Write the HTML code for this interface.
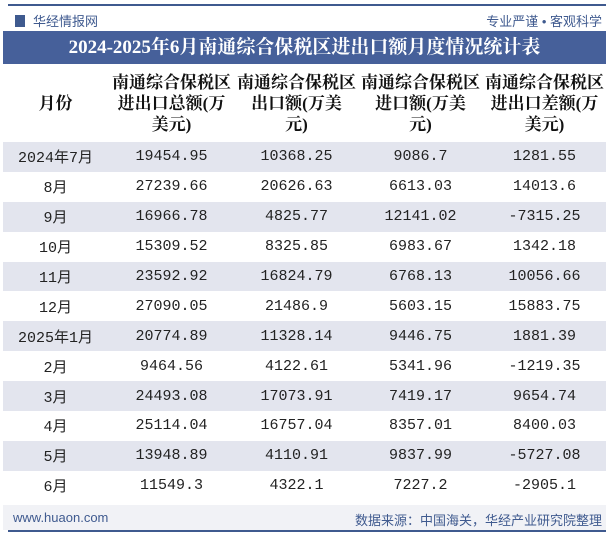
<!DOCTYPE html>
<html><head><meta charset="utf-8"><style>
body{margin:0;width:612px;height:535px;background:#fff;position:relative;overflow:hidden;font-family:"Liberation Serif","Noto Serif CJK SC",serif}
.abs{position:absolute}
table{position:absolute;left:3px;top:64px;width:603px;border-collapse:collapse;table-layout:fixed}
th{height:78px;font-size:17px;font-weight:bold;color:#111;line-height:21px;padding:0;vertical-align:middle;white-space:nowrap}
td{height:29.9px;padding:0;text-align:center;font-size:15px;color:#222;font-family:"Liberation Mono","Noto Sans CJK SC",monospace}
tr.g td{background:#e3e5ee}
</style></head><body>
<div class="abs" style="left:8px;top:4px;width:598px;height:2px;background:#3f5a8f"></div>
<div class="abs" style="left:15px;top:11px;font-size:13px;color:#3f5a8f;font-family:'Liberation Sans','Noto Sans CJK SC',sans-serif"><span style="display:inline-block;width:10px;height:12px;background:#3f5a8f;vertical-align:-1px;margin-right:8px"></span>华经情报网</div>
<div class="abs" style="right:10px;top:11px;font-size:13px;color:#3f5a8f;font-family:'Liberation Sans','Noto Sans CJK SC',sans-serif">专业严谨 • 客观科学</div>
<div class="abs" style="left:3px;top:31px;width:603px;height:33px;background:#46609a;color:#fff;font-size:19px;font-weight:bold;line-height:33px;text-align:center">2024-2025年6月南通综合保税区进出口额月度情况统计表</div>
<table>
<colgroup><col style="width:105px"><col style="width:127px"><col style="width:123px"><col style="width:125px"><col style="width:123px"></colgroup>
<tr><th>月份</th><th>南通综合保税区<br>进出口总额(万<br>美元)</th><th>南通综合保税区<br>出口额(万美<br>元)</th><th>南通综合保税区<br>进口额(万美<br>元)</th><th>南通综合保税区<br>进出口差额(万<br>美元)</th></tr>
<tr class="g"><td>2024年7月</td><td>19454.95</td><td>10368.25</td><td>9086.7</td><td>1281.55</td></tr>
<tr><td>8月</td><td>27239.66</td><td>20626.63</td><td>6613.03</td><td>14013.6</td></tr>
<tr class="g"><td>9月</td><td>16966.78</td><td>4825.77</td><td>12141.02</td><td>-7315.25</td></tr>
<tr><td>10月</td><td>15309.52</td><td>8325.85</td><td>6983.67</td><td>1342.18</td></tr>
<tr class="g"><td>11月</td><td>23592.92</td><td>16824.79</td><td>6768.13</td><td>10056.66</td></tr>
<tr><td>12月</td><td>27090.05</td><td>21486.9</td><td>5603.15</td><td>15883.75</td></tr>
<tr class="g"><td>2025年1月</td><td>20774.89</td><td>11328.14</td><td>9446.75</td><td>1881.39</td></tr>
<tr><td>2月</td><td>9464.56</td><td>4122.61</td><td>5341.96</td><td>-1219.35</td></tr>
<tr class="g"><td>3月</td><td>24493.08</td><td>17073.91</td><td>7419.17</td><td>9654.74</td></tr>
<tr><td>4月</td><td>25114.04</td><td>16757.04</td><td>8357.01</td><td>8400.03</td></tr>
<tr class="g"><td>5月</td><td>13948.89</td><td>4110.91</td><td>9837.99</td><td>-5727.08</td></tr>
<tr><td>6月</td><td>11549.3</td><td>4322.1</td><td>7227.2</td><td>-2905.1</td></tr>
</table>
<div class="abs" style="left:3px;top:505px;width:603px;height:25px;background:#f1f2f6"></div>
<div class="abs" style="left:13px;top:510px;font-size:13px;color:#3f5a8f;font-family:'Liberation Sans',sans-serif">www.huaon.com</div>
<div class="abs" style="right:10px;top:510px;font-size:13px;color:#3f5a8f;font-family:'Liberation Sans','Noto Sans CJK SC',sans-serif">数据来源：中国海关，华经产业研究院整理</div>
<div class="abs" style="left:8px;top:530px;width:598px;height:2px;background:#3f5a8f"></div>
</body></html>
